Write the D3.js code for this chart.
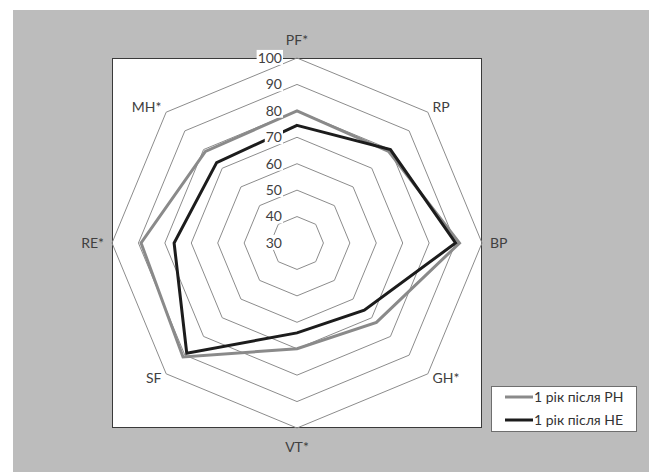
<!DOCTYPE html>
<html><head><meta charset="utf-8">
<script src="https://cdn.jsdelivr.net/npm/d3@7"></script>
<style>body{margin:0;background:#fff;}svg{display:block;font-family:Lato,"Noto Sans",sans-serif;}</style>
</head><body>
<svg id="c" width="649" height="472"></svg>
<script>
const axes = ["PF*","RP","BP","GH*","VT*","SF","RE*","MH*"];
const ticks = [30,40,50,60,70,80,90,100];
const seriesNames = ["1 рік після РН","1 рік після НЕ"];
const valuesPH = [80,79,91.5,72.5,70,91,89,79];
const valuesHE = [74.5,80,90,66,64,89,76.5,73];
const seriesColors = ["#8a8a8a","#1c1c1c"];

const svg = d3.select("#c");
const cx = 297, cy = 243, R = 185;
svg.append("rect").attr("x",13).attr("y",10).attr("width",636).attr("height",462).attr("fill","#bcbcbc");
svg.append("rect").attr("x",112.5).attr("y",58.5).attr("width",369).attr("height",369).attr("fill","#fff").attr("stroke","#3a3a3a").attr("stroke-width",1);

const r = d3.scaleLinear().domain([30,100]).range([0,R]);
const ang = d3.scalePoint().domain(axes).range([0, 2*Math.PI*7/8]);
const pt = (a,v)=>[cx + r(v)*Math.sin(ang(a)), cy - r(v)*Math.cos(ang(a))];

const g = svg.append("g");
// grid rings
ticks.filter(t=>t>30).forEach(t=>{
  g.append("path").attr("d", d3.line()(axes.map(a=>pt(a,t))) + "Z")
    .attr("fill","none").attr("stroke","#8c8c8c").attr("stroke-width",1);
});
// series
[valuesPH, valuesHE].forEach((vals,i)=>{
  g.append("path").attr("d", d3.line()(axes.map((a,j)=>pt(a,vals[j]))) + "Z")
    .attr("fill","none").attr("stroke",seriesColors[i]).attr("stroke-width",3).attr("stroke-linejoin","miter");
});
// tick labels
ticks.forEach(t=>{
  const y = cy - r(t);
  const tx = g.append("text").attr("x",cx-15).attr("y",y).attr("dy","0.35em")
    .attr("text-anchor","end").attr("font-size",14).attr("fill","#404040").text(t);
  const bb = tx.node().getBBox();
  g.insert("rect", () => tx.node()).attr("x",bb.x-1).attr("y",bb.y+1).attr("width",bb.width+2).attr("height",bb.height-2).attr("fill","#fff");
});
// axis labels
const lab = [
  {dx:0,dy:-203,anchor:"middle"},
  {dx:135.5,dy:-135.5,anchor:"start"},
  {dx:193,dy:0,anchor:"start"},
  {dx:135.5,dy:135.5,anchor:"start"},
  {dx:0,dy:204,anchor:"middle"},
  {dx:-135.5,dy:135.5,anchor:"end"},
  {dx:-193,dy:0,anchor:"end"},
  {dx:-135.5,dy:-135.5,anchor:"end"}
];
axes.forEach((a,i)=>{
  svg.append("text").attr("x",cx+lab[i].dx).attr("y",cy+lab[i].dy).attr("dy","0.35em")
    .attr("text-anchor",lab[i].anchor).attr("font-size",14).attr("fill","#404040").text(a);
});
// legend
const lg = svg.append("g");
lg.append("rect").attr("x",491.5).attr("y",386.5).attr("width",145).attr("height",45).attr("fill","#fff").attr("stroke","#6e6e6e");
seriesNames.forEach((n,i)=>{
  const y = 397 + i*23;
  lg.append("line").attr("x1",505).attr("x2",533).attr("y1",y).attr("y2",y).attr("stroke",seriesColors[i]).attr("stroke-width",3);
  lg.append("text").attr("x",534).attr("y",y).attr("dy","0.35em").attr("font-size",14).attr("fill","#333").text(n);
});
</script>
</body></html>
